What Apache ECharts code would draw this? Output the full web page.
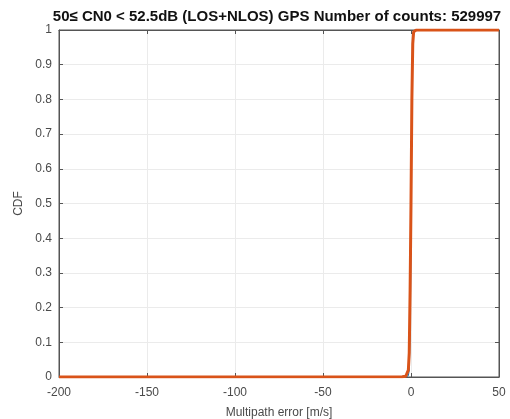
<!DOCTYPE html>
<html>
<head>
<meta charset="utf-8">
<script src="https://cdn.jsdelivr.net/npm/echarts@6/dist/echarts.min.js"></script>
<style>html,body{margin:0;padding:0;background:#fff;}#c{width:510px;height:419px;}</style>
</head>
<body>
<div id="c"></div>
<script>
var titleText = '50\u2264 CN0 < 52.5dB (LOS+NLOS) GPS Number of counts: 529997';
var xName = 'Multipath error [m/s]';
var yName = 'CDF';
var xTicks = [-200, -150, -100, -50, 0, 50];
var yTicks = [0, 0.1, 0.2, 0.3, 0.4, 0.5, 0.6, 0.7, 0.8, 0.9, 1];

var errX      = [-200, -5,    -3,    -2,    -1.5,  -1,    -0.5,  0,    0.5,  1,    1.5,   2,     3,  50];
var cdfOrange = [0,    0.001, 0.002, 0.006, 0.02,  0.07,  0.25,  0.5,  0.8,  0.96, 0.995, 0.999, 1,  1];
var cdfBlue   = [0,    0,     0,     0.001, 0.004, 0.02,  0.12,  0.4,  0.82, 0.97, 0.997, 1,     1,  1];

function pairs(xs, ys){ return xs.map(function(x,i){ return [x, ys[i]]; }); }

var chart = echarts.init(document.getElementById('c'), null, {renderer:'canvas'});
var axisColor = '#555';
var labelColor = '#4a4a4a';
var font = 'Liberation Sans, Arial';
function axisBase(){
  return {
    axisLine: {show: true, onZero: false, lineStyle: {color: axisColor}},
    axisTick: {show: true, inside: true, length: 4, lineStyle: {color: axisColor}}
  };
}
chart.setOption({
  animation: false,
  backgroundColor: '#fff',
  title: {
    text: titleText, left: 272, top: 4, textAlign: 'center',
    textStyle: {fontFamily: font, fontSize: 15, fontWeight: 'bold', color: '#111'}
  },
  grid: {left: 59, right: 11, top: 30, bottom: 42, show: true, borderColor: axisColor, borderWidth: 1,
         containLabel: false, outerBoundsMode: 'none'},
  xAxis: [
    Object.assign(axisBase(), {
      type: 'value', min: -200, max: 50, interval: 50, position: 'bottom',
      name: xName, nameLocation: 'middle', nameGap: 30,
      nameTextStyle: {fontFamily: font, fontSize: 12, color: labelColor},
      axisLabel: {fontFamily: font, fontSize: 12, color: labelColor, margin: 10,
        formatter: function(v){ return xTicks.indexOf(v) >= 0 ? String(v) : ''; }},
      splitLine: {show: true, lineStyle: {color: '#ebebeb', width: 1}}
    }),
    Object.assign(axisBase(), {
      type: 'value', min: -200, max: 50, interval: 50, position: 'top',
      axisLabel: {show: false}, splitLine: {show: false}
    })
  ],
  yAxis: [
    Object.assign(axisBase(), {
      type: 'value', min: 0, max: 1, interval: 0.1, position: 'left',
      name: yName, nameLocation: 'middle', nameGap: 30,
      nameTextStyle: {fontFamily: font, fontSize: 12, color: labelColor},
      axisLabel: {fontFamily: font, fontSize: 12, color: labelColor, margin: 7,
        formatter: function(v){ var r = Math.round(v*10)/10; return yTicks.indexOf(r) >= 0 ? String(r) : ''; }},
      splitLine: {show: true, lineStyle: {color: '#ebebeb', width: 1}}
    }),
    Object.assign(axisBase(), {
      type: 'value', min: 0, max: 1, interval: 0.1, position: 'right',
      axisLabel: {show: false}, splitLine: {show: false}
    })
  ],
  series: [
    {type: 'line', data: pairs(errX, cdfBlue), showSymbol: false, smooth: false, z: 2,
     lineStyle: {color: '#0072BD', width: 1}},
    {type: 'line', data: pairs(errX, cdfOrange), showSymbol: false, smooth: false, z: 3,
     lineStyle: {color: '#D95319', width: 3}}
  ]
});
</script>
</body>
</html>
